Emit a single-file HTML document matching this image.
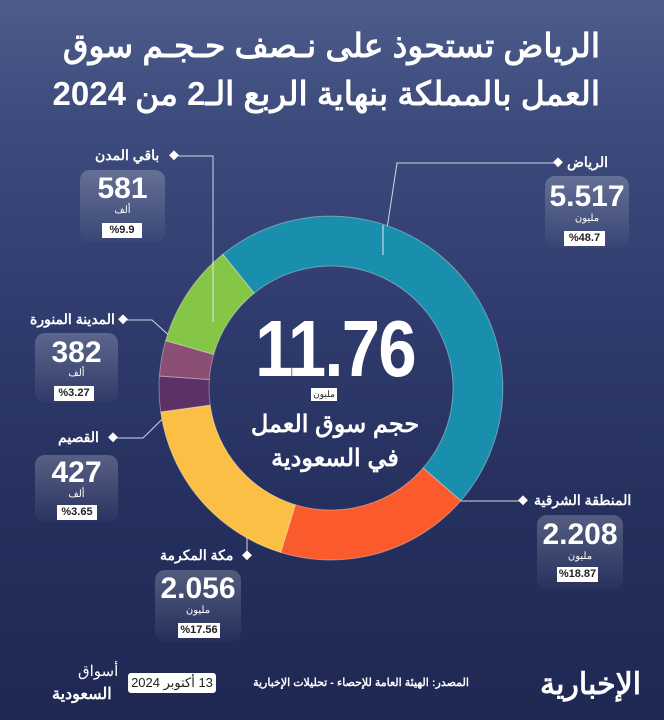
<!DOCTYPE html>
<html><head><meta charset="utf-8"><style>
*{margin:0;padding:0;box-sizing:border-box}
body{width:664px;height:720px;overflow:hidden;position:relative;font-family:"Liberation Sans","Noto Sans CJK SC",sans-serif;color:#fff;
background:linear-gradient(180deg,#4d5c8a 0%,#3e4d7e 15%,#2f3b6c 45%,#25305e 70%,#1f2853 100%);}
.a{position:absolute;white-space:nowrap}
.t{right:64px;font-size:33px;font-weight:bold;direction:rtl;text-align:right;line-height:48px}
.lab{font-size:14px;font-weight:bold;direction:rtl}
.card{position:absolute;border-radius:10px;background:linear-gradient(180deg,rgba(255,255,255,0.22),rgba(255,255,255,0.02));}
.num{position:absolute;left:0;right:0;text-align:center;font-size:30px;font-weight:bold}
.u{position:absolute;left:0;right:0;text-align:center;font-size:10px;direction:rtl}
.p{position:absolute;background:#fff;color:#222;font-size:11px;font-weight:bold;text-align:center;line-height:15px}
</style></head><body>
<div class="a t" style="top:22px">الرياض تستحوذ على نـصف حـجـم سوق</div>
<div class="a t" style="top:70px">العمل بالمملكة بنهاية الربع الـ2 من 2024</div>

<svg class="a" style="left:0;top:0" width="664" height="720">
<g stroke="#cfd6e6" stroke-width="1" fill="none">
<polyline points="174,156 213,156 213,322"/>
<polyline points="123,320 152,320 194,358"/>
<polyline points="113,438 143,438 189,393"/>
<polyline points="247,556 247,507 228,483"/>
<polyline points="558,163 397,163 383,255"/>
<polyline points="523,501 432,501"/>
</g>
<g fill="#fff">
<rect x="170" y="152" width="7" height="7" transform="rotate(45 174 156)"/>
<rect x="119" y="316" width="7" height="7" transform="rotate(45 123 320)"/>
<rect x="109" y="434" width="7" height="7" transform="rotate(45 113 438)"/>
<rect x="243" y="552" width="7" height="7" transform="rotate(45 247 556)"/>
<rect x="554" y="159" width="7" height="7" transform="rotate(45 558 163)"/>
<rect x="519" y="497" width="7" height="7" transform="rotate(45 523 501)"/>
</g>
<g stroke="rgba(255,255,255,0.35)" stroke-width="1">
<path fill="#1a8fad" d="M222.8,254.3 A172,172 0 0 1 460.8,500.8 L423.1,468 A122,122 0 0 0 254.2,293.2 Z"/>
<path fill="#fb5a2c" d="M460.8,500.8 A172,172 0 0 1 280.7,552.5 L295.3,504.7 A122,122 0 0 0 423.1,468 Z"/>
<path fill="#fcbf45" d="M280.7,552.5 A172,172 0 0 1 160.7,411.9 L210.2,405 A122,122 0 0 0 295.3,504.7 Z"/>
<path fill="#5c3266" d="M160.7,411.9 A172,172 0 0 1 159.4,376 L209.3,379.5 A122,122 0 0 0 210.2,405 Z"/>
<path fill="#8c4f74" d="M159.4,376 A172,172 0 0 1 165.7,340.6 L213.7,354.4 A122,122 0 0 0 209.3,379.5 Z"/>
<path fill="#86c646" d="M165.7,340.6 A172,172 0 0 1 222.8,254.3 L254.2,293.2 A122,122 0 0 0 213.7,354.4 Z"/>
</g>
<g stroke="#e6e9f0" stroke-width="1" fill="none">
<line x1="213" y1="260" x2="213" y2="322"/>
<line x1="383" y1="225" x2="383" y2="255"/>
</g>
</svg>

<div class="a" style="left:235px;top:304px;width:200px;text-align:center;font-size:80px;font-weight:bold;line-height:90px;transform:scaleX(0.86);letter-spacing:-2px">11.76</div>
<div class="a" style="left:311px;top:388px;width:26px;height:13px;background:#fff;color:#222;font-size:9px;text-align:center;line-height:13px">مليون</div>
<div class="a" style="left:235px;top:410px;width:200px;text-align:center;font-size:24px;font-weight:bold;direction:rtl">حجم سوق العمل</div>
<div class="a" style="left:235px;top:444px;width:200px;text-align:center;font-size:24px;font-weight:bold;direction:rtl">في السعودية</div>

<div class="a lab" style="left:95px;top:147px">باقي المدن</div>
<div class="card" style="left:80px;top:170px;width:85px;height:72px"><div class="num" style="top:2px">581</div><div class="u" style="top:35px">ألف</div><div class="p" style="left:22px;top:53px;width:40px">%9.9</div></div>

<div class="a lab" style="left:30px;top:311px">المدينة المنورة</div>
<div class="card" style="left:35px;top:333px;width:83px;height:70px"><div class="num" style="top:3px">382</div><div class="u" style="top:35px">ألف</div><div class="p" style="left:19px;top:53px;width:40px">%3.27</div></div>

<div class="a lab" style="left:58px;top:429px">القصيم</div>
<div class="card" style="left:35px;top:455px;width:83px;height:68px"><div class="num" style="top:1px">427</div><div class="u" style="top:34px">ألف</div><div class="p" style="left:22px;top:50px;width:40px">%3.65</div></div>

<div class="a lab" style="left:160px;top:547px">مكة المكرمة</div>
<div class="card" style="left:155px;top:570px;width:86px;height:72px"><div class="num" style="top:2px">2.056</div><div class="u" style="top:35px">مليون</div><div class="p" style="left:23px;top:53px;width:42px">%17.56</div></div>

<div class="a lab" style="left:567px;top:154px">الرياض</div>
<div class="card" style="left:545px;top:176px;width:84px;height:72px"><div class="num" style="top:4px">5.517</div><div class="u" style="top:37px">مليون</div><div class="p" style="left:19px;top:55px;width:41px">%48.7</div></div>

<div class="a lab" style="left:534px;top:492px">المنطقة الشرقية</div>
<div class="card" style="left:537px;top:515px;width:86px;height:75px"><div class="num" style="top:3px">2.208</div><div class="u" style="top:36px">مليون</div><div class="p" style="left:20px;top:52px;width:41px">%18.87</div></div>

<div class="a" style="left:78px;top:662px;font-size:15px;direction:rtl">أسواق</div>
<div class="a" style="left:52px;top:684px;font-size:16px;font-weight:bold;direction:rtl">السعودية</div>
<div class="a" style="left:128px;top:673px;width:88px;height:20px;background:#fff;color:#222;border-radius:3px;font-size:13px;text-align:center;line-height:20px;direction:rtl">13 أكتوبر 2024</div>
<div class="a" style="left:252px;top:676px;width:218px;text-align:center;font-size:11px;font-weight:bold;direction:rtl">المصدر: الهيئة العامة للإحصاء - تحليلات الإخبارية</div>
<div class="a" style="left:540px;top:667px;font-size:30px;font-weight:bold;direction:rtl">الإخبارية</div>
</body></html>
